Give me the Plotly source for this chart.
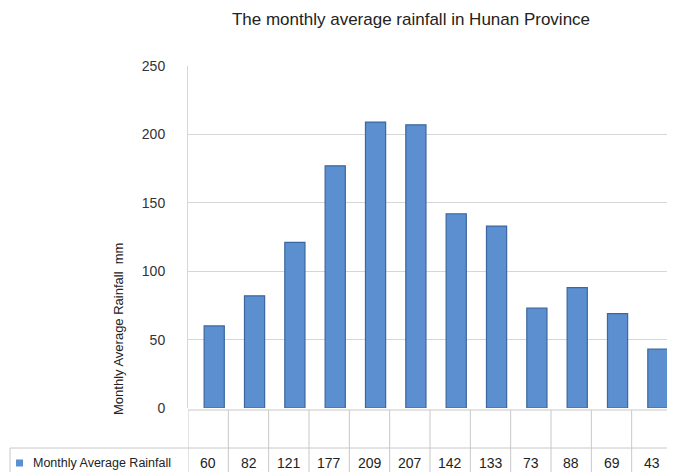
import plotly.graph_objects as go

months = ["Jan", "Feb", "Mar", "Apr", "May", "Jun", "Jul", "Aug", "Sep", "Oct", "Nov", "Dec"]
rainfall = [60, 82, 121, 177, 209, 207, 142, 133, 73, 88, 69, 43]
series_name = "Monthly Average Rainfall"
y_title = "Monthly Average Rainfall  mm"
chart_title = "The monthly average rainfall in Hunan Province"
y_ticks = [0, 50, 100, 150, 200, 250]

OFF = 8  # page body margin
W, H = 675 - OFF, 472 - OFF
L, R, T, B = 188 - OFF, 3, 66 - OFF, 64
pw = W - L - R
ph = H - T - B
FONT = "Liberation Sans, Arial"

def py(pix):
    return (472 - B - pix) / ph

def px(pix):
    return (pix - 188) / pw

x_idx = list(range(len(months)))

fig = go.Figure()
fig.add_trace(go.Bar(
    x=x_idx, y=rainfall, name=series_name, width=0.5, offset=-0.1,
    marker=dict(color="#5b8fcf", line=dict(color="#3a679f", width=1.2)),
    showlegend=False,
))

shapes = []
line_col = "#c8c8c8"
for i in range(len(months) + 1):
    shapes.append(dict(type="line", xref="x", yref="paper", x0=i - 0.5, x1=i - 0.5,
                       y0=py(410), y1=py(472), line=dict(color=line_col, width=1)))
shapes.append(dict(type="line", xref="paper", yref="paper", x0=0, x1=1,
                   y0=py(410), y1=py(410), line=dict(color=line_col, width=1)))
shapes.append(dict(type="line", xref="paper", yref="paper", x0=px(10), x1=1,
                   y0=py(448), y1=py(448), line=dict(color=line_col, width=1)))
shapes.append(dict(type="line", xref="paper", yref="paper", x0=px(10), x1=px(10),
                   y0=py(448), y1=py(472), line=dict(color=line_col, width=1)))
# legend key
shapes.append(dict(type="rect", xref="paper", yref="paper", x0=px(16), x1=px(23),
                   y0=py(459.5), y1=py(466.5), fillcolor="#5b8fcf", line=dict(width=0)))

annotations = []
for i, v in enumerate(rainfall):
    annotations.append(dict(x=i, y=py(463), xref="x", yref="paper", yanchor="middle",
                            text=str(v), showarrow=False,
                            font=dict(size=14, color="#222", family=FONT)))
annotations.append(dict(x=px(31), y=py(463), xref="paper", yref="paper", xanchor="left",
                        yanchor="middle", text=series_name, showarrow=False,
                        font=dict(size=12.5, color="#222", family=FONT)))
annotations.append(dict(x=px(118), y=py(329), xref="paper", yref="paper",
                        xanchor="center", yanchor="middle",
                        text=y_title, textangle=-90, showarrow=False,
                        font=dict(size=13, color="#222", family=FONT)))

fig.update_layout(
    width=W, height=H,
    margin=dict(l=L, r=R, t=T, b=B, autoexpand=False),
    paper_bgcolor="white", plot_bgcolor="white",
    title=dict(text=chart_title, x=(411 - OFF) / W, xanchor="center",
               y=1 - (19 - OFF) / H, yanchor="middle",
               font=dict(size=17, color="#222", family=FONT)),
    xaxis=dict(range=[-0.5, len(months) - 0.5], showticklabels=False, showgrid=False,
               zeroline=False, showline=False),
    yaxis=dict(range=[0, 250], tickvals=y_ticks, showgrid=True, gridcolor="#d6d6d6",
               zeroline=False, showline=True, linecolor="#d6d6d6", ticks="",
               ticklabelstandoff=19,
               tickfont=dict(size=14, color="#333", family=FONT)),
    shapes=shapes, annotations=annotations,
)

fig.write_html("out.html")
